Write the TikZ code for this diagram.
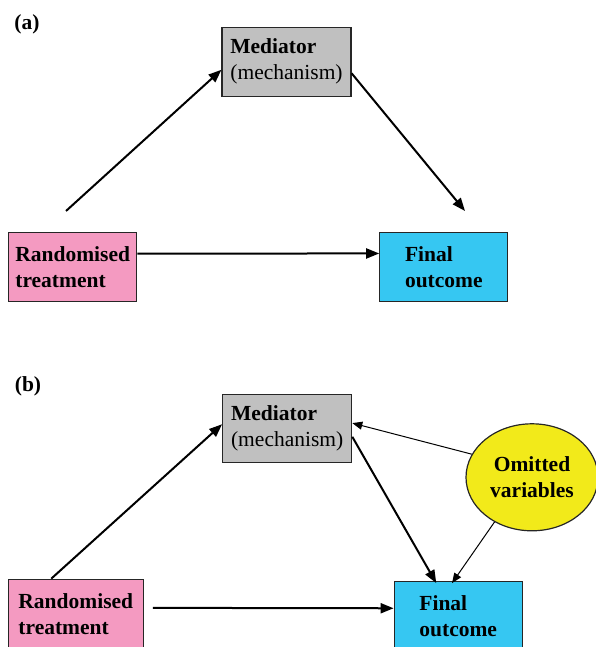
\documentclass[tikz,border=0pt]{standalone}
\usepackage{fontspec}
\setmainfont{Liberation Serif}
\usetikzlibrary{arrows.meta,shapes.geometric}

\definecolor{treatpink}{RGB}{244,154,193}
\definecolor{outcyan}{RGB}{54,199,242}
\definecolor{medgray}{RGB}{192,192,192}
\definecolor{omityellow}{RGB}{242,234,26}

\tikzset{
	box/.style={draw=black!85, line width=1.2pt, minimum width=128pt, minimum height=69pt,
		align=left, inner sep=2pt, font=\fontsize{21.5}{26}\selectfont},
	mainarrow/.style={line width=2pt, -{Triangle[length=13pt,width=10pt]}},
	sidearrow/.style={line width=1pt, -{Triangle[length=10pt,width=8pt]}},
	panel/.style={font=\fontsize{21.5}{26}\selectfont\bfseries}
}

\begin{document}
\begin{tikzpicture}[x=1pt,y=-1pt]
	\useasboundingbox (0,0) rectangle (595,647);

	% (a) mediator without confounding
	\node[panel] (labA) at (27,24) {(a)};
	\node[box, fill=medgray, minimum width=129pt] (medA) at (286.5,61.8) {\textbf{Mediator}\\(mechanism)};
	\node[box, fill=treatpink] (ranA) at (72.7,267.3) {\textbf{Randomised}\\\textbf{treatment}};
	\node[box, fill=outcyan] (finA) at (443.8,267.2) {\textbf{Final}\\\textbf{outcome}};
	\coordinate (startA) at (66,211);
	\coordinate (endA) at (465,211);
	\draw[mainarrow] (startA) -- (medA.187);
	\draw[mainarrow] (medA.-10) -- (endA);
	\draw[mainarrow] (ranA.12) -- (finA.168);

	% (b) with omitted variables
	\node[panel] (labB) at (28,386) {(b)};
	\node[box, fill=medgray, minimum width=129pt, minimum height=68pt] (medB) at (287.2,428.8) {\textbf{Mediator}\\(mechanism)};
	\node[box, fill=treatpink, minimum width=135pt] (ranB) at (75.8,613.8) {\textbf{Randomised}\\\textbf{treatment}};
	\node[box, fill=outcyan] (finB) at (458.2,616.2) {\textbf{Final}\\\textbf{outcome}};
	\node[ellipse, draw=black!85, line width=1.2pt, fill=omityellow, minimum width=132pt, minimum height=107pt,
		inner sep=0pt, align=center, font=\fontsize{21.5}{26}\selectfont\bfseries] (omit) at (532,477.3) {Omitted\\variables};
	\draw[mainarrow] (ranB.125) -- (medB.176);
	\draw[mainarrow] (medB.-7) -- ([yshift=-2pt]finB.122);
	\draw[mainarrow, shorten <=9pt] (ranB.5) -- (finB.173);
	\draw[sidearrow] (omit.159) -- (medB.5);
	\draw[sidearrow] (omit.230) -- ([yshift=-2pt]finB.100);
\end{tikzpicture}
\end{document}
